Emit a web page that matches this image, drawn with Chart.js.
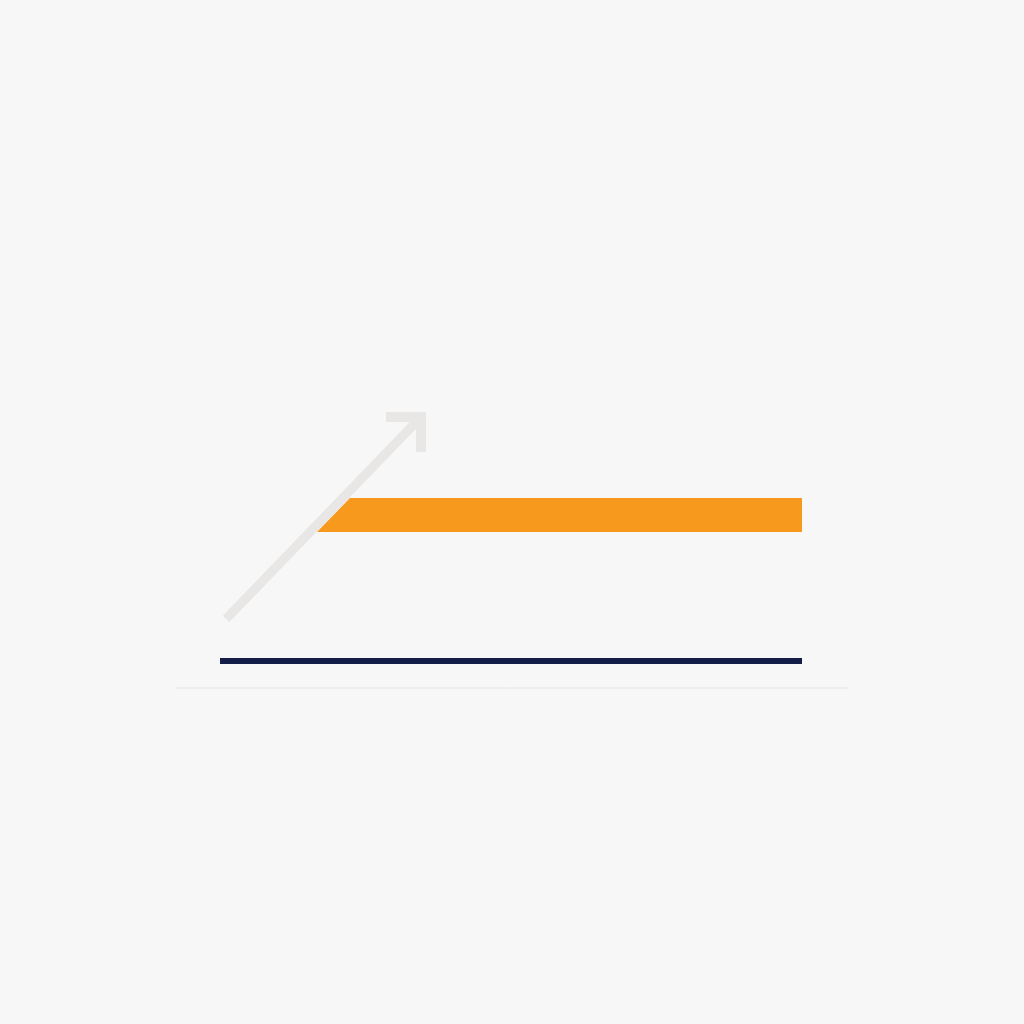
<!DOCTYPE html>
<html lang="en">

<head>
  <meta charset="UTF-8">
  <title>Growth icon</title>
  <script src="https://cdn.jsdelivr.net/npm/chart.js"></script>
  <style>
    html, body { margin: 0; padding: 0; background: #f7f7f7; }
    #wrap { width: 1024px; height: 1024px; }
  </style>
</head>

<body>
  <div id="wrap"><canvas id="iconChart" width="1024" height="1024"></canvas></div>

  <script>
    // Data, in grid units (0-1024 both ways, y counted downward)
    const arrowX = [226, 421];
    const arrowY = [619, 417];
    const headX = [386, 421, 421];
    const headY = [417, 417, 452];
    const barX = [317, 350, 802];
    const barTop = [532, 498, 498];
    const barBase = 532;
    const lineX = [220, 802];
    const lineY = [661, 661];
    const baseX = [175, 848];
    const baseY = [688, 688];

    // Helper: zip x and y arrays into points
    function zip(xs, ys) {
      return xs.map((x, i) => ({ x: x, y: ys[i] }));
    }

    const background = {
      id: 'background',
      beforeDraw(chart) {
        const c = chart.ctx;
        c.save();
        c.fillStyle = '#f7f7f7';
        c.fillRect(0, 0, chart.width, chart.height);
        c.restore();
      }
    };

    const stroke = { showLine: true, pointRadius: 0, borderCapStyle: 'butt', borderJoinStyle: 'miter', tension: 0 };

    const ctx = document.getElementById('iconChart').getContext('2d');
    new Chart(ctx, {
      type: 'scatter',
      data: {
        datasets: [
          Object.assign({ data: zip(arrowX, arrowY), borderColor: '#e8e7e5', borderWidth: 9 }, stroke),
          Object.assign({ data: zip(headX, headY), borderColor: '#e8e7e5', borderWidth: 10 }, stroke),
          Object.assign({ data: zip(barX, barTop), borderWidth: 0, borderColor: 'rgba(0,0,0,0)',
            backgroundColor: '#f7991c', fill: { value: barBase } }, stroke),
          Object.assign({ data: zip(lineX, lineY), borderColor: '#141c48', borderWidth: 6 }, stroke),
          Object.assign({ data: zip(baseX, baseY), borderColor: '#e4e4e4', borderWidth: 1 }, stroke)
        ]
      },
      options: {
        responsive: false,
        animation: false,
        layout: { padding: 0 },
        plugins: { legend: { display: false }, tooltip: { enabled: false } },
        scales: {
          x: { type: 'linear', min: 0, max: 1024, display: false },
          y: { type: 'linear', min: 0, max: 1024, reverse: true, display: false }
        }
      },
      plugins: [background]
    });
  </script>
</body>

</html>
